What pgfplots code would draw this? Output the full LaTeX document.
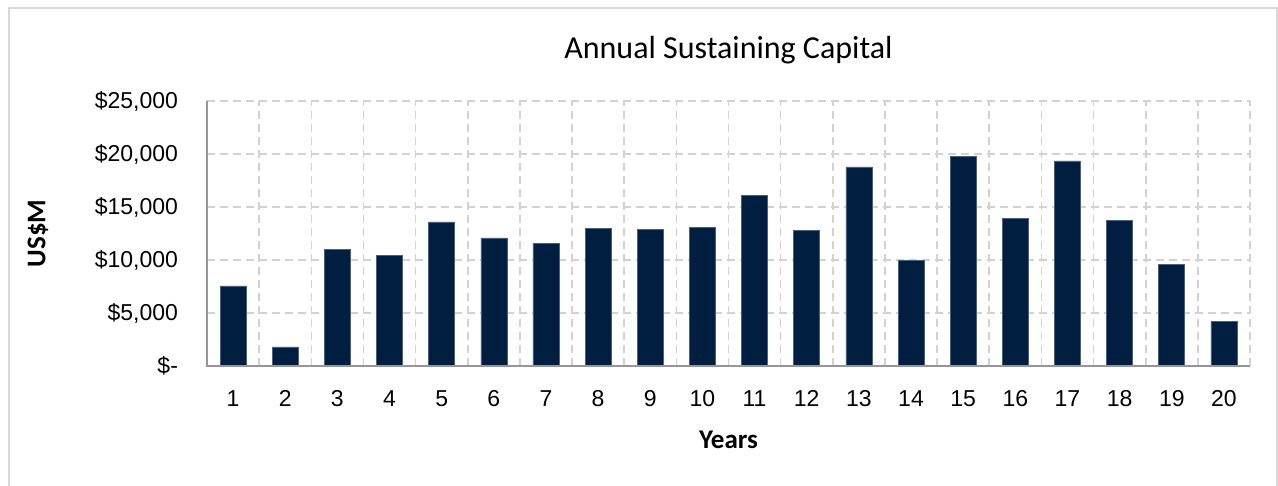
\documentclass[border=0pt]{standalone}
\usepackage{fontspec}
\setmainfont{Carlito}
\newfontfamily\arialfont{Liberation Sans}
\usepackage{pgfplots}
\pgfplotsset{compat=1.18}
\definecolor{barblue}{RGB}{0,30,64}
\definecolor{gridgray}{RGB}{210,210,210}
\definecolor{axisgray}{RGB}{150,150,150}
\definecolor{framegray}{RGB}{217,217,217}
\begin{document}
\begin{tikzpicture}
\path[use as bounding box] (0,0) rectangle (639pt,243pt);
\draw[framegray, line width=1pt] (4.5pt,0pt) -- (4.5pt,239pt) -- (638.5pt,239pt) -- (638.5pt,0pt);
\begin{axis}[
  at={(103.5pt,60pt)}, anchor=south west,
  scale only axis, width=521.5pt, height=132.5pt,
  xmin=0.5, xmax=20.5, ymin=0, ymax=25000,
  xtick={1,...,20},
  minor xtick={0.5,1.5,...,20.5},
  ytick={0,5000,10000,15000,20000,25000},
  yticklabels={{\$-},{\$5,000},{\$10,000},{\$15,000},{\$20,000},{\$25,000}},
  scaled y ticks=false,
  major tick length=0pt, minor tick length=0pt,
  ymajorgrids, xminorgrids,
  grid style={gridgray, dashed, dash pattern=on 4pt off 2.5pt, line width=0.8pt},
  minor grid style={gridgray, dashed, dash pattern=on 4pt off 2.5pt, line width=0.8pt},
  axis line style={draw=none},
  /pgf/number format/assume math mode=true,
  xticklabel style={font=\arialfont\fontsize{11.5}{13}\selectfont, text height=1.6ex, text depth=0.2ex, yshift=-9pt},
  yticklabel style={font=\arialfont\fontsize{11.5}{13}\selectfont, xshift=-11pt},
  title={Annual Sustaining Capital},
  title style={font=\fontsize{16}{19}\selectfont, at={(axis description cs:0.5,1.147)}, anchor=center},
  xlabel={Years},
  xlabel style={font=\bfseries\fontsize{13.5}{16}\selectfont, at={(axis description cs:0.5,-0.279)}, anchor=center},
  ylabel={US\$M},
  ylabel style={font=\bfseries\fontsize{13.5}{16}\selectfont, at={(axis description cs:-0.162,0.5)}, anchor=center},
  clip=false,
]
\addplot[ybar, bar width=13pt, fill=barblue, draw=barblue!70!white, line width=0.3pt] coordinates {
(1,7550) (2,1800) (3,10970) (4,10440) (5,13600) (6,12080) (7,11600) (8,12990)
(9,12900) (10,13080) (11,16130) (12,12800) (13,18780) (14,9980) (15,19750)
(16,13960) (17,19340) (18,13700) (19,9620) (20,4220)
};
\draw[axisgray, line width=1.2pt] (axis cs:0.5,25000) -- (axis cs:0.5,0) -- (axis cs:20.5,0);
\end{axis}
\end{tikzpicture}
\end{document}
